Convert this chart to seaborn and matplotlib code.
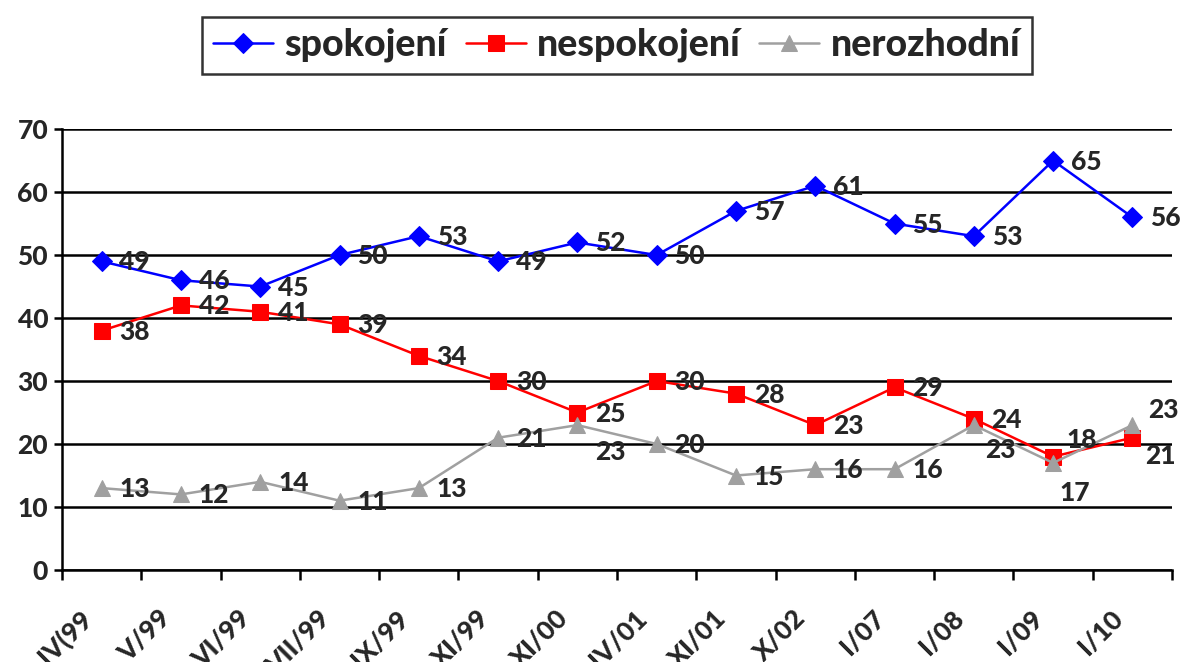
import numpy as np
import pandas as pd
import matplotlib
matplotlib.use("Agg")
import matplotlib.pyplot as plt
import matplotlib.transforms as mtrans
import seaborn as sns

periods = ["IV(99","V/99","VI/99","VII/99","IX/99","XI/99","XI/00",
           "IV/01","XI/01","X/02","I/07","I/08","I/09","I/10"]
spokojeni = [49,46,45,50,53,49,52,50,57,61,55,53,65,56]
nespokojeni = [38,42,41,39,34,30,25,30,28,23,29,24,18,21]
nerozhodni = [13,12,14,11,13,21,23,20,15,16,16,23,17,23]

series_names = ["spokojení","nespokojení","nerozhodní"]
colors = ["#0000FF","#FF0000","#A0A0A0"]
markers = ["D","s","^"]
msizes = [10,12,12]

df = pd.DataFrame({
    "x": np.tile(np.arange(len(periods)),3),
    "value": spokojeni+nespokojeni+nerozhodni,
    "serie": np.repeat(series_names,len(periods)),
})

sns.set_style("white")
plt.rcParams["font.family"] = ["Lato","DejaVu Sans"]
plt.rcParams["font.weight"] = "black"

fig = plt.figure(figsize=(11.84,6.62),dpi=100)
ax = fig.add_axes([0.0524,0.139,0.9375,0.666])

for name,c,m,ms in zip(series_names,colors,markers,msizes):
    sub = df[df["serie"]==name]
    sns.lineplot(data=sub,x="x",y="value",color=c,marker=m,markersize=ms,
                 markeredgecolor=c,linewidth=1.8,ax=ax,label=name)

# data labels, right of point by default; some moved like in the original
default_off = (33,-1)
special = {("nerozhodní",6):(33,-27),("nerozhodní",11):(27,-25),
           ("nespokojení",12):(29,17),("nerozhodní",12):(22,-30),
           ("nerozhodní",13):(31,15),("nespokojení",13):(28,-18)}
for name in series_names:
    sub = df[df["serie"]==name]
    for xv,yv in zip(sub["x"],sub["value"]):
        off = special.get((name,xv),default_off)
        ax.annotate(str(yv),(xv,yv),xytext=off,textcoords="offset pixels",
                    ha="center",va="center",fontsize=19,fontweight="black")

ax.set_xlim(-0.5,len(periods)-0.5)
ax.set_ylim(0,70)
ax.set_yticks(range(0,71,10))
ax.set_xticks(range(len(periods)))
ax.set_xticklabels(periods,rotation=45,ha="right",va="center",rotation_mode="anchor")
ax.set_xticks(np.arange(-0.5,len(periods)),minor=True)
ax.tick_params(axis="x",which="major",length=0,pad=32,labelsize=19)
ax.tick_params(axis="x",which="minor",length=7,width=1.8,color="black",direction="out",bottom=True)
ax.tick_params(axis="y",length=6,width=1.8,color="black",direction="out",left=True,labelsize=19,pad=4)
# shift rotated labels a bit left, like excel does
shift = mtrans.ScaledTranslation(-0.14,0,fig.dpi_scale_trans)
for lab in ax.get_xticklabels():
    lab.set_transform(lab.get_transform()+shift)
ax.set_xlabel("")
ax.set_ylabel("")
ax.yaxis.grid(True,color="black",linewidth=1.8)
ax.set_axisbelow(True)
for s in ["top","right"]:
    ax.spines[s].set_visible(False)
for s in ["left","bottom"]:
    ax.spines[s].set_color("black")
    ax.spines[s].set_linewidth(1.8)

ax.legend_.remove()
h,l = ax.get_legend_handles_labels()
leg = fig.legend(h,l,loc="center",bbox_to_anchor=(0.521,0.932),ncol=3,
                 fontsize=27,frameon=True,fancybox=False,handlelength=1.6,
                 columnspacing=0.5,handletextpad=0.3,borderpad=0.3)
leg.get_frame().set_edgecolor("black")
leg.get_frame().set_linewidth(1.8)

fig.savefig("out.png",dpi=100)
